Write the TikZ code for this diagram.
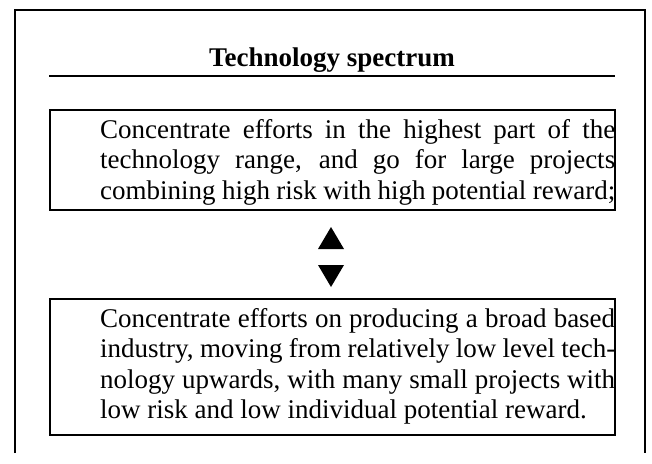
\documentclass[tikz,border=0pt]{standalone}
\usepackage{fontspec}
\setmainfont{Liberation Serif}
\usepackage{tikz}
\usetikzlibrary{positioning}

\begin{document}
\begin{tikzpicture}[x=1pt, y=-1pt,
    frame/.style={line width=1.6pt},
    para/.style={anchor=base west, inner sep=0pt, text width=515pt, align=justify,
      font=\fontsize{27}{30.5}\selectfont}]
  \useasboundingbox (0,0) rectangle (652,463);
  % Outer frame
  \draw[line width=1.4pt] (15,453) -- (15,10) -- (645,10) -- (645,453);
  % Heading with rule
  \node[anchor=base, inner sep=0pt, font=\fontsize{27}{30}\selectfont\bfseries] (title) at (332,66) {Technology spectrum};
  \draw[frame] (49,76) -- (615,76);
  % Upper strategy
  \draw[frame] (50,110) rectangle (615,210);
  \node[para] (high) at (100,138) {\parfillskip=0pt Concentrate efforts in the highest part of the\linebreak
    technology range, and go for large projects\linebreak
    combining high risk with high potential reward;\par};
  % Double arrow between the two
  \fill (331,227) -- (344,249) -- (318,249) -- cycle;
  \fill (318,265) -- (344,265) -- (331,287) -- cycle;
  % Lower strategy
  \draw[frame] (50,299) rectangle (615,435);
  \node[para] (low) at (100,327) {Concentrate efforts on producing a broad based\linebreak
    industry, moving from relatively low level tech-\linebreak
    nology upwards, with many small projects with\linebreak
    low risk and low individual potential reward.};
\end{tikzpicture}
\end{document}
